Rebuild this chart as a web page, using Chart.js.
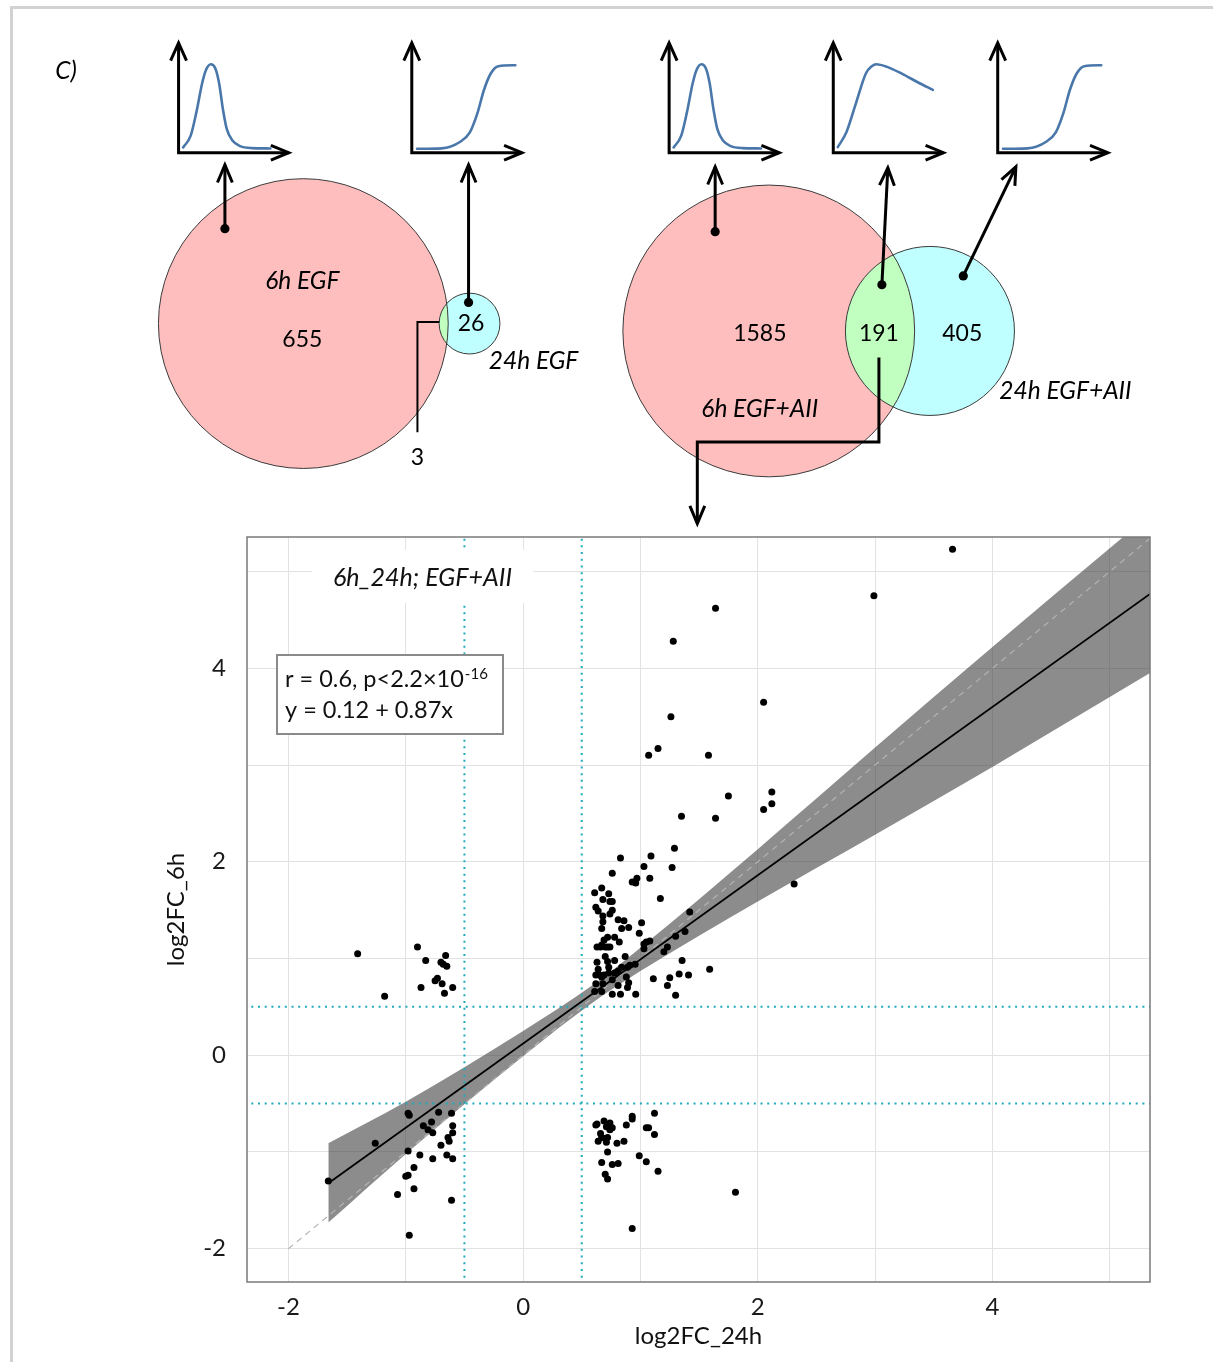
<!DOCTYPE html>
<html>
<head>
<meta charset="utf-8">
<script src="https://cdn.jsdelivr.net/npm/chart.js@4.4.1/dist/chart.umd.min.js"></script>
<style>
  html, body { margin: 0; padding: 0; background: #fff; }
  #page { position: relative; width: 1213px; height: 1362px; overflow: hidden; }
  #frame { position: absolute; left: 10px; top: 6px; width: 1400px; height: 1500px;
           border: 3px solid #d2d2d2; box-sizing: border-box; }
  canvas { position: absolute; left: 0; top: 0; }
</style>
</head>
<body>
<div id="page">
  <div id="frame"></div>
  <canvas id="scatter" width="1213" height="1362"></canvas>
  <canvas id="venn" width="1213" height="540"></canvas>
</div>
<script>
const FONT = 'Lato, "Open Sans", "DejaVu Sans", sans-serif';

// ---------------- Venn counts: [6h only, shared, 24h only] ----------------
const egfNames = ['6h EGF', '24h EGF'];
const egfCounts = [655, 3, 26];
const egfAiiNames = ['6h EGF+AII', '24h EGF+AII'];
const egfAiiCounts = [1585, 191, 405];

// ---------------- response profile sketches (u: along time, v: height) ----------------
const transientU = [0.041, 0.110, 0.162, 0.214, 0.248, 0.293, 0.334, 0.368, 0.403, 0.438, 0.489, 0.559, 0.662, 0.834];
const transientV = [0.048, 0.155, 0.369, 0.631, 0.750, 0.804, 0.765, 0.631, 0.393, 0.214, 0.111, 0.060, 0.042, 0.039];
const sustainedU = [0.041, 0.119, 0.207, 0.296, 0.350, 0.390, 0.489, 0.630, 0.771, 0.904];
const sustainedV = [0.051, 0.185, 0.453, 0.720, 0.786, 0.804, 0.780, 0.714, 0.638, 0.571];
const lateU = [0.048, 0.27, 0.44, 0.527, 0.596, 0.655, 0.717, 0.786, 0.94];
const lateV = [0.036, 0.04, 0.10, 0.185, 0.36, 0.57, 0.72, 0.786, 0.795];

// ---------------- scatter: log2 fold changes of the 191 shared genes ----------------
const upperX = [3.66, 2.99, 1.64, 1.28, 2.05, 1.26, 1.15, 1.07, 1.58, 1.75, 2.12, 2.12, 2.05, 1.35, 1.64, 2.31, 1.81];
const upperY = [5.23, 4.75, 4.62, 4.28, 3.65, 3.50, 3.17, 3.10, 3.10, 2.68, 2.72, 2.60, 2.54, 2.47, 2.45, 1.77, -1.415];

const rightX = [1.29, 1.09, 1.03, 1.27, 1.08, 1.17, 1.42, 1.01, 1.38, 1.30, 1.08, 1.03,
                1.05, 1.03, 1.23, 1.20, 1.355, 1.59, 1.11, 1.33, 1.41, 1.25, 1.23, 1.30];
const rightY = [2.14, 2.06, 1.95, 1.94, 1.83, 1.62, 1.48, 1.37, 1.28, 1.23, 1.18, 1.15,
                1.17, 1.10, 1.12, 1.07, 0.98, 0.89, 0.79, 0.84, 0.83, 0.80, 0.72, 0.62];

const coreX = [0.83, 0.76, 0.97, 0.93, 0.96, 0.61, 0.67, 0.73, 0.68, 0.74,
               0.76, 0.62, 0.64, 0.76, 0.74, 0.68, 0.81, 0.86, 0.68, 0.67,
               0.84, 0.90, 0.99, 0.78, 0.72, 0.69, 0.82, 0.67, 0.63, 0.66,
               0.72, 0.74, 0.70, 0.70, 0.87, 0.72, 0.78, 0.63, 0.955, 0.91,
               0.89, 0.64, 0.62, 0.65, 0.69, 0.73, 0.73, 0.67, 0.78, 0.81,
               0.84, 0.88, 0.62, 0.68, 0.76, 0.81, 0.89, 0.90, 0.61, 0.67,
               0.76, 0.83, 0.96];
const coreY = [2.04, 1.88, 1.83, 1.79, 1.78, 1.68, 1.73, 1.67, 1.61, 1.59,
               1.59, 1.53, 1.49, 1.50, 1.46, 1.44, 1.40, 1.39, 1.38, 1.31,
               1.31, 1.32, 1.26, 1.22, 1.22, 1.19, 1.17, 1.14, 1.12, 1.12,
               1.12, 1.12, 1.12, 1.02, 1.02, 0.97, 0.98, 0.96, 0.94, 0.93,
               0.91, 0.89, 0.83, 0.83, 0.83, 0.91, 0.85, 0.81, 0.85, 0.87,
               0.91, 0.81, 0.74, 0.74, 0.78, 0.72, 0.70, 0.75, 0.66, 0.66,
               0.63, 0.63, 0.63];

const upLeftX = [-1.41, -1.18, -0.90, -0.83, -0.66, -0.70, -0.68, -0.65, -0.75, -0.73, -0.69, -0.87, -0.60, -0.67];
const upLeftY = [1.05, 0.61, 1.12, 0.98, 1.03, 0.96, 0.94, 0.92, 0.77, 0.795, 0.74, 0.70, 0.70, 0.64];

const downLeftX = [-1.66, -1.26, -0.98, -0.97, -0.72, -0.61, -0.85, -0.81, -0.78, -0.77,
                   -0.60, -0.60, -0.64, -0.63, -0.70, -0.98, -0.88, -0.77, -0.65, -0.60,
                   -0.93, -1.00, -0.98, -1.07, -0.93, -0.61, -0.97];
const downLeftY = [-1.30, -0.91, -0.60, -0.62, -0.59, -0.60, -0.73, -0.77, -0.69, -0.80,
                   -0.73, -0.80, -0.85, -0.89, -0.93, -0.99, -1.03, -1.07, -1.03, -1.07,
                   -1.16, -1.25, -1.24, -1.44, -1.38, -1.50, -1.86];

const downRightX = [1.12, 0.93, 0.93, 0.69, 0.63, 0.62, 0.74, 0.71, 0.76, 0.74,
                    0.88, 1.05, 1.07, 1.12, 0.66, 0.67, 0.70, 0.72, 0.64, 0.71,
                    0.80, 0.86, 0.72, 0.99, 1.05, 0.67, 0.76, 0.81, 1.15, 0.70,
                    0.72, 0.93];
const downRightY = [-0.60, -0.63, -0.66, -0.68, -0.71, -0.72, -0.70, -0.74, -0.75, -0.77,
                    -0.72, -0.75, -0.75, -0.82, -0.81, -0.85, -0.86, -0.85, -0.89, -0.90,
                    -0.91, -0.89, -1.00, -1.04, -1.10, -1.11, -1.13, -1.12, -1.20, -1.23,
                    -1.28, -1.79];

// linear fit and its confidence band
const corrR = 0.6;
const fitIntercept = 0.12;
const fitSlope = 0.87;
const bandX    = [-1.66, -1.00, 0.00, 0.60, 1.00, 2.00, 3.00, 4.00, 5.343];
const bandLow  = [-1.73, -1.02, -0.01, 0.55, 0.87, 1.59, 2.28, 2.98, 3.95];
const bandHigh = [-0.91, -0.48, 0.25, 0.73, 1.11, 2.13, 3.18, 4.22, 5.59];

const foldCut = 0.5;          // |log2FC| threshold lines
const gridValues = [-2, -1, 0, 1, 2, 3, 4, 5];
const xRange = [-2.353, 5.343];
const yRange = [-2.344, 5.357];

// ====================== Venn + sketches ======================
const SK = { base: 150.7, top: 39, len: 111, height: 112 };
const sketches = [
  { ox: 175.3, u: transientU, v: transientV },
  { ox: 410.3, u: lateU, v: lateV },
  { ox: 669.6, u: transientU, v: transientV },
  { ox: 835.0, u: sustainedU, v: sustainedV },
  { ox: 1000.7, u: lateU, v: lateV }
];
const vennGeom = [
  { counts: egfCounts, cx: 301, cy: 324.5, R: 146, cx2: 468.5 },
  { counts: egfAiiCounts, cx: 770, cy: 332, R: 147, cx2: 932.4 }
];
const pointers = [
  { from: [222, 228], to: [222, 163] },
  { from: [467.5, 303], to: [467.5, 163] },
  { from: [716, 231], to: [716, 165] },
  { from: [884, 285], to: [890, 166] },
  { from: [966, 276], to: [1019, 165] }
];
const vennTexts = [
  { t: 'C)', x: 62, y: 68, italic: true },
  { t: egfNames[0], x: 300, y: 281, italic: true },
  { t: String(egfCounts[0]), x: 300, y: 341 },
  { t: String(egfCounts[2]), x: 470, y: 324 },
  { t: egfNames[1], x: 533, y: 363, italic: true },
  { t: String(egfCounts[1]), x: 416, y: 461 },
  { t: String(egfAiiCounts[0]), x: 761, y: 335 },
  { t: String(egfAiiCounts[1]), x: 881, y: 335 },
  { t: String(egfAiiCounts[2]), x: 965, y: 335 },
  { t: egfAiiNames[0], x: 761, y: 412, italic: true },
  { t: egfAiiNames[1], x: 1069, y: 393, italic: true }
];

function pts(arr) { return arr.map(p => ({ x: p[0], y: p[1] })); }
function lineDS(arr, width, color, extra) {
  return Object.assign({
    data: pts(arr), showLine: true, borderColor: color, borderWidth: width,
    pointRadius: 0, fill: false, borderCapStyle: 'butt', borderJoinStyle: 'miter'
  }, extra || {});
}
function chevron(tail, tip, len, half) {
  const dx = tip[0] - tail[0], dy = tip[1] - tail[1], L = Math.hypot(dx, dy);
  const ux = dx / L, uy = dy / L, nx = -uy, ny = ux;
  return [[tip[0] - ux * len + nx * half, tip[1] - uy * len + ny * half], tip,
          [tip[0] - ux * len - nx * half, tip[1] - uy * len - ny * half]];
}

function buildVennDatasets() {
  const ds = [];
  sketches.forEach(s => {
    const corner = [s.ox, SK.base], topTip = [s.ox, SK.top], rightTip = [s.ox + SK.len, SK.base];
    ds.push(lineDS([topTip, corner, rightTip], 3, '#000'));
    ds.push(lineDS(chevron(corner, topTip, 18, 8), 3, '#000'));
    ds.push(lineDS(chevron(corner, rightTip, 18, 7.5), 3, '#000'));
    const curve = s.u.map((u, i) => [s.ox + u * SK.len, SK.base - s.v[i] * SK.height]);
    ds.push(lineDS(curve, 2.6, '#4a77aa', { cubicInterpolationMode: 'monotone', borderCapStyle: 'round', borderJoinStyle: 'round' }));
  });
  pointers.forEach(p => {
    ds.push(lineDS([p.from, p.to], 3, '#000'));
    ds.push(lineDS(chevron(p.from, p.to, 18, 7.5), 3, '#000'));
  });
  // connector for the 3 shared EGF genes
  ds.push(lineDS([[438, 323], [416, 323], [416, 435]], 2, '#000'));
  // connector from the 191 shared EGF+AII genes down to the scatter plot
  const c2 = [[881, 359], [881, 445], [698, 445], [698, 528]];
  ds.push(lineDS(c2, 3, '#000'));
  ds.push(lineDS(chevron(c2[2], c2[3], 18, 7.5), 3, '#000'));
  ds.push({ data: pts(pointers.map(p => p.from)), pointRadius: 4.6, pointBackgroundColor: '#000', pointBorderWidth: 0 });
  return ds;
}

const vennPlugin = {
  id: 'vennCircles',
  beforeDatasetsDraw(chart) {
    const { ctx, scales: { x, y } } = chart;
    vennGeom.forEach(g => {
      const [a, ab, b] = g.counts;
      const r1 = g.R, r2 = g.R * Math.sqrt((b + ab) / (a + ab));
      const c1 = [x.getPixelForValue(g.cx), y.getPixelForValue(g.cy)];
      const c2 = [x.getPixelForValue(g.cx2), y.getPixelForValue(g.cy)];
      const p1 = x.getPixelForValue(g.cx + r1) - c1[0];
      const p2 = x.getPixelForValue(g.cx2 + r2) - c2[0];
      const circ = (c, r) => { ctx.beginPath(); ctx.arc(c[0], c[1], r, 0, Math.PI * 2); };
      ctx.save();
      circ(c1, p1); ctx.fillStyle = '#ffbebe'; ctx.fill();
      circ(c2, p2); ctx.fillStyle = '#bfffff'; ctx.fill();
      ctx.save(); circ(c1, p1); ctx.clip(); circ(c2, p2); ctx.fillStyle = '#c0ffc0'; ctx.fill(); ctx.restore();
      ctx.strokeStyle = '#3a3a3a'; ctx.lineWidth = 1;
      circ(c1, p1); ctx.stroke();
      circ(c2, p2); ctx.stroke();
      ctx.restore();
    });
  },
  afterDatasetsDraw(chart) {
    const { ctx, scales: { x, y } } = chart;
    ctx.save();
    ctx.fillStyle = '#000';
    ctx.textAlign = 'center';
    ctx.textBaseline = 'middle';
    vennTexts.forEach(t => {
      ctx.font = t.italic ? 'italic 24.5px ' + FONT : '23px ' + FONT;
      ctx.fillText(t.t, x.getPixelForValue(t.x), y.getPixelForValue(t.y));
    });
    ctx.restore();
  }
};

// ====================== scatter plot ======================
function xy(xs, ys) { return xs.map((v, i) => ({ x: v, y: ys[i] })); }
const genes = [].concat(
  xy(upperX, upperY), xy(rightX, rightY), xy(coreX, coreY),
  xy(upLeftX, upLeftY), xy(downLeftX, downLeftY), xy(downRightX, downRightY)
);
const fitStart = Math.min(...genes.map(g => g.x));
const fitLine = [fitStart, xRange[1]].map(v => ({ x: v, y: fitIntercept + fitSlope * v }));

const panelPlugin = {
  id: 'panelDecor',
  afterDatasetsDraw(chart) {
    const { ctx, chartArea: a } = chart;
    ctx.save();
    // facet title box
    ctx.fillStyle = '#fff';
    ctx.fillRect(a.left + 65, a.top + 13, 221, 53);
    ctx.fillStyle = '#111';
    ctx.font = 'italic 25px ' + FONT;
    ctx.textAlign = 'center';
    ctx.textBaseline = 'middle';
    ctx.fillText('6h_24h; EGF+AII', a.left + 175.5, a.top + 41);
    // statistics box
    ctx.fillStyle = '#fff';
    ctx.fillRect(a.left + 30, a.top + 118, 226, 79);
    ctx.strokeStyle = '#8a8a8a';
    ctx.lineWidth = 2;
    ctx.strokeRect(a.left + 30, a.top + 118, 226, 79);
    ctx.fillStyle = '#111';
    ctx.textAlign = 'left';
    ctx.textBaseline = 'alphabetic';
    ctx.font = '23.5px ' + FONT;
    const l1 = 'r = ' + corrR + ', p<2.2\u00d710';
    ctx.fillText(l1, a.left + 38, a.top + 150);
    const w = ctx.measureText(l1).width;
    ctx.font = '15px ' + FONT;
    ctx.fillText('-16', a.left + 38 + w + 1, a.top + 142);
    ctx.font = '23.5px ' + FONT;
    ctx.fillText('y = ' + fitIntercept + ' + ' + fitSlope + 'x', a.left + 38, a.top + 181);
    ctx.restore();
  },
  afterDraw(chart) {
    const { ctx, chartArea: a } = chart;
    ctx.save();
    ctx.strokeStyle = '#7a7a7a';
    ctx.lineWidth = 1.5;
    ctx.strokeRect(a.left, a.top, a.right - a.left, a.bottom - a.top);
    ctx.restore();
  }
};

const evenLabel = v => (Number.isInteger(v) && v % 2 === 0) ? String(v) : '';
const gridTicks = s => { s.ticks = gridValues.map(v => ({ value: v })); };
const cutColor = '#1eaabb';
const cutStyle = { borderDash: [2, 4.7], borderCapStyle: 'butt', order: 3 };

function draw() {
  Chart.defaults.font.family = FONT;

  new Chart(document.getElementById('scatter'), {
    type: 'scatter',
    data: {
      datasets: [
        { label: 'genes', data: genes, pointRadius: 3.5, pointBackgroundColor: '#000',
          pointBorderWidth: 0, order: 0 },
        { label: 'fit', data: fitLine, showLine: true, borderColor: '#000', borderWidth: 1.8,
          pointRadius: 0, order: 1 },
        { label: 'y = x', data: [{ x: -2, y: -2 }, { x: 6, y: 6 }], showLine: true,
          borderColor: '#b4b4b4', borderWidth: 1.2, borderDash: [6, 5], pointRadius: 0, order: 2 },
        Object.assign(lineDS([[-foldCut, -5], [-foldCut, 8]], 2, cutColor), cutStyle),
        Object.assign(lineDS([[foldCut, -5], [foldCut, 8]], 2, cutColor), cutStyle),
        Object.assign(lineDS([[-5, foldCut], [8, foldCut]], 2, cutColor), cutStyle),
        Object.assign(lineDS([[-5, -foldCut], [8, -foldCut]], 2, cutColor), cutStyle),
        { label: 'band low', data: xy(bandX, bandLow), showLine: true, borderWidth: 0,
          pointRadius: 0, cubicInterpolationMode: 'monotone', order: 6 },
        { label: 'band high', data: xy(bandX, bandHigh), showLine: true, borderWidth: 0,
          pointRadius: 0, cubicInterpolationMode: 'monotone', fill: '-1',
          backgroundColor: 'rgba(64,64,64,0.6)', order: 6 }
      ]
    },
    options: {
      responsive: false, animation: false, events: [],
      layout: { padding: { left: 0, top: 537, right: 63, bottom: 0 } },
      plugins: { legend: { display: false }, tooltip: { enabled: false } },
      scales: {
        x: {
          type: 'linear', min: xRange[0], max: xRange[1],
          afterBuildTicks: gridTicks,
          afterFit: s => { s.height = 80; },
          grid: { color: '#e2e2e2', lineWidth: 1, drawTicks: false },
          border: { display: false },
          ticks: { padding: 11, color: '#1a1a1a', font: { size: 24 }, autoSkip: false,
                   maxRotation: 0, callback: evenLabel },
          title: { display: true, text: 'log2FC_24h', color: '#111', font: { size: 24 },
                   padding: { top: 0, bottom: 11.6 } }
        },
        y: {
          type: 'linear', min: yRange[0], max: yRange[1],
          afterBuildTicks: gridTicks,
          afterFit: s => { s.width = 247; },
          grid: { color: '#e2e2e2', lineWidth: 1, drawTicks: false },
          border: { display: false },
          ticks: { padding: 21, color: '#1a1a1a', font: { size: 24 }, autoSkip: false,
                   callback: evenLabel },
          title: { display: true, text: 'log2FC_6h', color: '#111', font: { size: 24 },
                   padding: { top: 161.6, bottom: 0 } }
        }
      }
    },
    plugins: [panelPlugin]
  });

  new Chart(document.getElementById('venn'), {
    type: 'scatter',
    data: { datasets: buildVennDatasets() },
    options: {
      responsive: false, animation: false, events: [],
      layout: { padding: 0 },
      plugins: { legend: { display: false }, tooltip: { enabled: false } },
      scales: {
        x: { type: 'linear', min: 0, max: 1213, display: false },
        y: { type: 'linear', min: 0, max: 540, reverse: true, display: false }
      }
    },
    plugins: [vennPlugin]
  });
}

Promise.all([
  document.fonts.load('22px Lato'),
  document.fonts.load('italic 22px Lato')
]).then(draw, draw);
</script>
</body>
</html>
